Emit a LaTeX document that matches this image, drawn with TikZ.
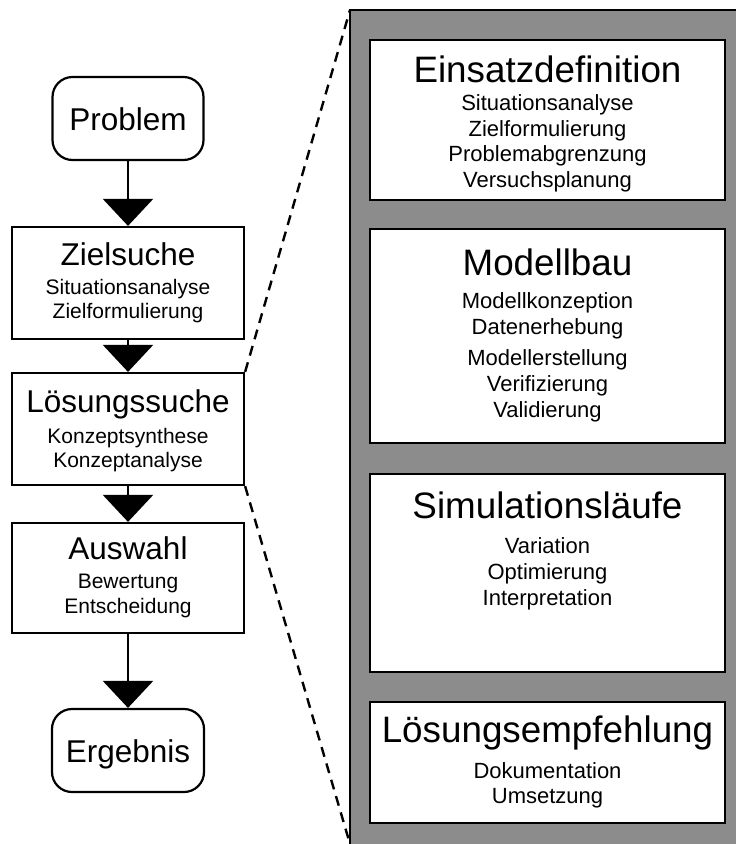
\documentclass[tikz,border=0pt]{standalone}
\usepackage{fontspec}
\setmainfont{Liberation Sans}
\usetikzlibrary{arrows.meta}
\definecolor{panelgray}{RGB}{140,140,140}
\begin{document}
\begin{tikzpicture}[x=1pt,y=-1pt,
  box/.style={draw, line width=2.2pt, fill=white, inner sep=0pt},
  endbox/.style={box, rounded corners=20pt},
  ltitle/.style={anchor=base, inner sep=0pt, font=\fontsize{31.5}{36}\selectfont},
  lsub/.style={anchor=base, inner sep=0pt, font=\fontsize{21}{25}\selectfont},
  rtitle/.style={anchor=base, inner sep=0pt, font=\fontsize{36.8}{42}\selectfont},
  rsub/.style={anchor=base, inner sep=0pt, font=\fontsize{22}{26}\selectfont},
  flow/.style={line width=2.2pt, -{Triangle[width=50pt,length=27pt]}},
  zoomline/.style={line width=2.4pt, dash pattern=on 10pt off 7pt},
]
\useasboundingbox (0,0) rectangle (736,844);

% detail panel on the right
\fill[panelgray] (350,10) rectangle (736,844);
\draw[line width=2.5pt] (350,844) -- (350,10) -- (736,10);
\coordinate (panelTL) at (350,10);
\coordinate (panelBL) at (350,844);

% process chain on the left
\node[endbox, minimum width=151pt, minimum height=83pt] (problem) at (128,118.5) {};
\node[ltitle] (problem-t) at (128,130) {Problem};

\node[box, minimum width=232pt, minimum height=112pt] (ziel) at (128,283) {};
\node[ltitle] (ziel-t) at (128,265) {Zielsuche};
\node[lsub] (ziel-1) at (128,294) {Situationsanalyse};
\node[lsub] (ziel-2) at (128,318) {Zielformulierung};

\node[box, minimum width=232pt, minimum height=112pt] (loes) at (128,429) {};
\node[ltitle] (loes-t) at (128,412) {Lösungssuche};
\node[lsub] (loes-1) at (128,443) {Konzeptsynthese};
\node[lsub] (loes-2) at (128,467) {Konzeptanalyse};

\node[box, minimum width=232pt, minimum height=110pt] (ausw) at (128,578) {};
\node[ltitle] (ausw-t) at (128,559) {Auswahl};
\node[lsub] (ausw-1) at (128,588) {Bewertung};
\node[lsub] (ausw-2) at (128,613) {Entscheidung};

\node[endbox, minimum width=152pt, minimum height=83pt] (erg) at (128,750.5) {};
\node[ltitle] (erg-t) at (128,762) {Ergebnis};

\draw[flow] (problem.south) -- (ziel.north);
\draw[flow] (ziel.south) -- (loes.north);
\draw[flow] (loes.south) -- (ausw.north);
\draw[flow] (ausw.south) -- (erg.north);

% zoom lines from the solution step to the panel
\draw[zoomline] (loes.north east) -- (panelTL);
\draw[zoomline] (loes.south east) -- (panelBL);

% phases of the simulation study
\node[box, minimum width=355pt, minimum height=160pt] (einsatz) at (547.5,120) {};
\node[rtitle] (einsatz-t) at (547.5,82) {Einsatzdefinition};
\node[rsub] (einsatz-1) at (547.5,110) {Situationsanalyse};
\node[rsub] (einsatz-2) at (547.5,136) {Zielformulierung};
\node[rsub] (einsatz-3) at (547.5,161) {Problemabgrenzung};
\node[rsub] (einsatz-4) at (547.5,187) {Versuchsplanung};

\node[box, minimum width=355pt, minimum height=214pt] (modell) at (547.5,336) {};
\node[rtitle] (modell-t) at (547.5,275) {Modellbau};
\node[rsub] (modell-1) at (547.5,308) {Modellkonzeption};
\node[rsub] (modell-2) at (547.5,334) {Datenerhebung};
\node[rsub] (modell-3) at (547.5,365) {Modellerstellung};
\node[rsub] (modell-4) at (547.5,391.5) {Verifizierung};
\node[rsub] (modell-5) at (547.5,417) {Validierung};

\node[box, minimum width=355pt, minimum height=198pt] (sim) at (547.5,573) {};
\node[rtitle] (sim-t) at (547.5,518) {Simulationsläufe};
\node[rsub] (sim-1) at (547.5,553) {Variation};
\node[rsub] (sim-2) at (547.5,579) {Optimierung};
\node[rsub] (sim-3) at (547.5,605) {Interpretation};

\node[box, minimum width=355pt, minimum height=121pt] (empf) at (547.5,762.5) {};
\node[rtitle] (empf-t) at (547.5,742) {Lösungsempfehlung};
\node[rsub] (empf-1) at (547.5,778) {Dokumentation};
\node[rsub] (empf-2) at (547.5,803) {Umsetzung};
\end{tikzpicture}
\end{document}
